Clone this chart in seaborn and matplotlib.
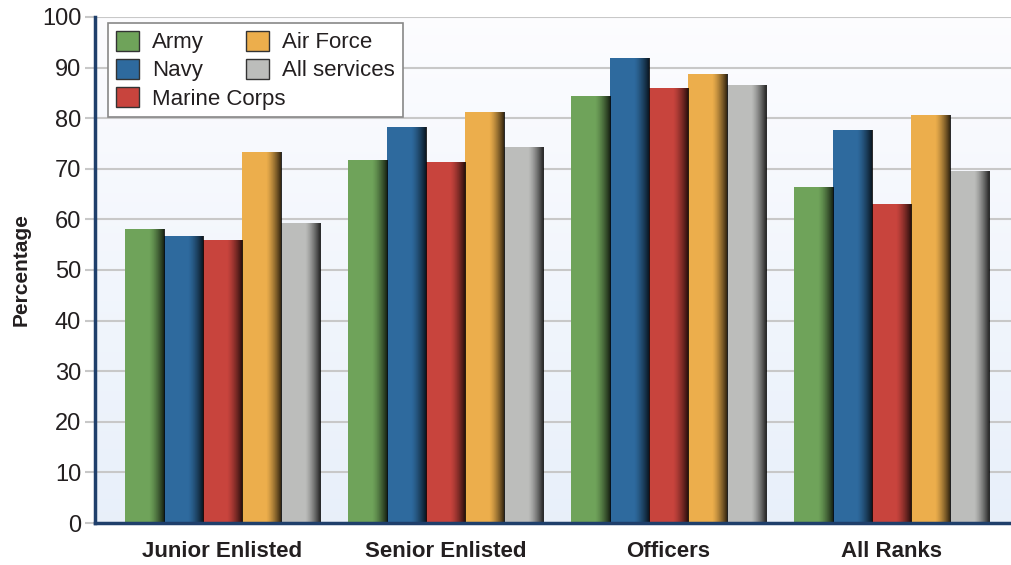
import numpy as np
import pandas as pd
import matplotlib
matplotlib.use("Agg")
import matplotlib.pyplot as plt
from matplotlib.patches import Patch
import seaborn as sns

# ---- data ----
ranks = ["Junior Enlisted", "Senior Enlisted", "Officers", "All Ranks"]
services = ["Army", "Navy", "Marine Corps", "Air Force", "All services"]
army = [58.0, 71.7, 84.4, 66.3]
navy = [56.8, 78.2, 91.9, 77.6]
marine = [56.0, 71.3, 85.9, 63.0]
air_force = [73.3, 81.2, 88.7, 80.6]
all_services = [59.2, 74.3, 86.5, 69.5]
yticks = list(range(0, 101, 10))

colors = ["#6FA35A", "#2E6A9E", "#C8443D", "#ECAE4C", "#BCBDBB"]


def main():
    rows = []
    for name, vals in zip(services, [army, navy, marine, air_force, all_services]):
        for r, v in zip(ranks, vals):
            rows.append({"Rank": r, "Service": name, "Percentage": v})
    df = pd.DataFrame(rows)

    sns.set_style("white")
    plt.rcParams["font.family"] = ["Liberation Sans", "DejaVu Sans"]

    fig = plt.figure(figsize=(10.12, 5.65), dpi=100)
    ax = fig.add_axes([0.0939, 0.0743, 0.9061, 0.8958])

    sns.barplot(data=df, x="Rank", y="Percentage", hue="Service",
                order=ranks, hue_order=services, palette=colors,
                width=0.875, gap=0, saturation=1, ax=ax, legend=False,
                linewidth=0, edgecolor="none", zorder=2)

    # shading on right side of each bar
    ramp = np.clip((np.linspace(0, 1, 300) - 0.6) / 0.4, 0, 1) ** 1.4
    shade = np.zeros((2, 300, 4))
    shade[..., 3] = ramp * 0.85
    for p in ax.patches:
        x0, w, h = p.get_x(), p.get_width(), p.get_height()
        im = ax.imshow(shade, extent=(x0, x0 + w, 0, h), aspect="auto",
                       interpolation="nearest", zorder=3)
        im.set_clip_path(p)

    # background gradient
    bg = np.linspace(0, 1, 256).reshape(-1, 1)
    top = np.array([0.99, 0.99, 1.0])
    bot = np.array([0.91, 0.94, 0.98])
    bg_img = (top * (1 - bg) + bot * bg)[:, None, :].repeat(2, axis=1)
    ax.imshow(bg_img, extent=(0, 1, 0, 1), transform=ax.transAxes,
              aspect="auto", zorder=-10)

    ax.set_xlim(-0.57, 3.54)
    ax.set_ylim(0, 100)
    ax.set_yticks(yticks)
    ax.yaxis.grid(True, color="#C8C8C8", linewidth=1.5, zorder=0)
    ax.set_axisbelow(True)

    for s in ["top", "right"]:
        ax.spines[s].set_visible(False)
    for s in ["left", "bottom"]:
        ax.spines[s].set_color("#1F3F6B")
        ax.spines[s].set_linewidth(2.5)
        ax.spines[s].set_zorder(5)

    ax.tick_params(axis="y", length=7, width=1.5, color="#C8C8C8",
                   labelsize=17, pad=3, left=True)
    ax.tick_params(axis="x", length=0, labelsize=16, pad=13)
    for lbl in ax.get_xticklabels():
        lbl.set_fontweight("bold")
        lbl.set_color("#231F20")
    for lbl in ax.get_yticklabels():
        lbl.set_color("#231F20")

    ax.set_xlabel("")
    ax.set_ylabel("Percentage", fontsize=15, fontweight="bold",
                  color="#231F20", labelpad=8)

    handles = [Patch(facecolor=c, edgecolor="#333333", linewidth=1.0)
               for c in colors]
    leg = ax.legend(handles, services, loc="upper left",
                    bbox_to_anchor=(0.014, 0.988), ncol=2, fontsize=16,
                    frameon=True, fancybox=False, framealpha=1,
                    edgecolor="#888888", handlelength=1.05, handleheight=1.0,
                    handletextpad=0.6, columnspacing=-1.8, labelspacing=0.25,
                    borderpad=0.35, borderaxespad=0)
    leg.get_frame().set_linewidth(1.2)
    leg.set_zorder(10)
    for t in leg.get_texts():
        t.set_color("#231F20")

    fig.savefig("out.png", dpi=100)


if __name__ == "__main__":
    main()
